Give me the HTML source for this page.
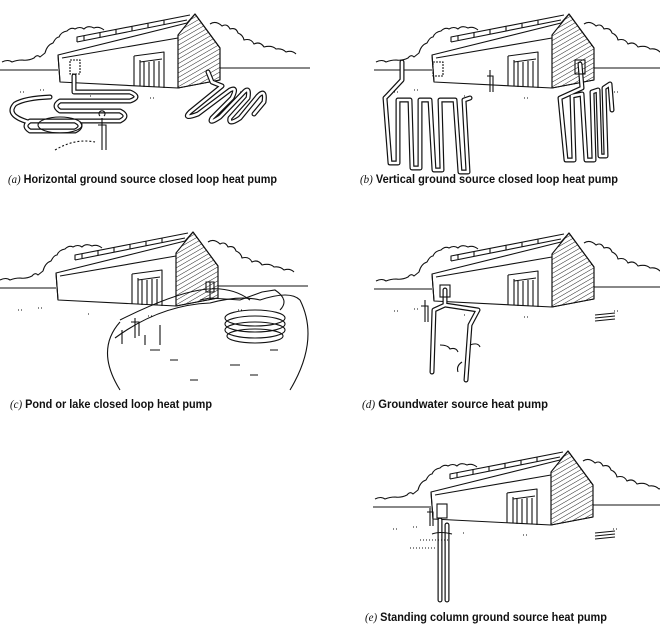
<!DOCTYPE html>
<html><head><meta charset="utf-8"><style>
html,body{margin:0;padding:0;background:#fff;}
svg{display:block}
.cap{font-family:"Liberation Sans",Arial,sans-serif;font-weight:bold;font-size:12px;fill:#111}
.it{font-family:"Liberation Serif",serif;font-style:italic;font-weight:normal}
</style></head><body>
<svg width="660" height="634" viewBox="0 0 660 634" xmlns="http://www.w3.org/2000/svg">
<defs>
<pattern id="h" width="4" height="4" patternUnits="userSpaceOnUse" patternTransform="rotate(60)">
<line x1="0" y1="0" x2="0" y2="4" stroke="#222" stroke-width="1"/></pattern>
<g id="bld" fill="none" stroke="#111" stroke-width="1.1" stroke-linejoin="round">
<path d="M2,62 q6,-3 10,0 q5,-2 10,-2 q6,1 12,-2 q3,-4 6,-1 l5,-4 q2,-8 8,-10 q3,-6 6,-6 q2,-5 8,-6 q4,-4 8,-2 q5,-3 9,0 q4,-4 10,-1 q5,-2 10,2"/>
<path d="M210,24 q6,-4 12,2 q5,-3 8,3 q6,-2 8,4 q5,2 6,7 q7,-2 10,4 q6,-3 10,3 q8,-2 12,2 q6,-1 10,3 q6,-2 10,2"/>
<path d="M0,70 L58,70 M220,68 L310,68"/>
<path d="M58,55 L187,23 L195,14 L220,48 L220,80 L178,88 L60,82 Z" fill="#fff"/>
<path d="M178,35 L178,88 M58,55 L60,82"/>
<path d="M178,35 L195,14 L220,48 L220,80 L178,88 Z" fill="url(#h)"/>
<path d="M77,42 L187,20 M77,42 L77,37 L190,15 M84,40 L84,36 M100,37 L100,32 M116,34 L116,29 M132,31 L132,26 M148,28 L148,23 M164,25 L164,20"/>
<path d="M62,58 L178,38"/>
<path d="M134,56 L164,52 L164,88 M134,56 L134,86 M140,60 L140,86 M144,62 L144,87 M149,62 L149,87 M154,61 L154,87 M159,61 L159,87 M140,62 L162,59"/>
<path d="M20,92 l4,0 M40,90 l6,0 M90,96 l3,0 M150,98 l5,0 M240,92 l4,0" stroke-dasharray="1 2"/>
</g>
</defs>

<use href="#bld"/>
<use href="#bld" transform="translate(374,0)"/>
<use href="#bld" transform="translate(-2,218)"/>
<use href="#bld" transform="translate(374,219)"/>
<use href="#bld" transform="translate(373,437)"/>

<g fill="none" stroke="#111" stroke-width="5" stroke-linecap="round" stroke-linejoin="round">
<path d="M74,76 L74,92 L130,92 Q142,97 130,101 L60,101 Q52,106 60,111 L120,111 Q130,116 120,121 L30,121 Q22,126 30,131 L75,131 Q85,126 75,121"/>
<path d="M28,122 Q5,115 15,104 Q25,98 50,97"/>
<path d="M208,72 L212,82 L222,86 L190,112 Q182,120 198,114 L230,90 Q238,86 232,98 L212,118 Q208,125 220,117 L244,92 Q250,86 248,98 L230,118 Q228,126 240,118 L258,96 Q266,88 264,102 L254,114"/>
<path d="M402,62 L402,80 L388,95 L385,98 L390,163 L398,163 L398,100 L410,100 L412,168 L420,168 L420,100 L430,100 L434,170 L442,170 L440,100 L455,100 L460,172 L468,172 L464,100 L470,98"/>
<path d="M580,64 L582,88 L560,98 L566,160 L574,160 L572,96 L582,94 L586,160 L594,160 L592,92 L598,90 L600,156 L606,156 L604,88 L610,84 L612,110"/>
<path d="M445,290 L445,305 L434,310 L432,372 M445,305 L478,310 L470,325 L466,380"/>
<path d="M440,520 L440,600 M447,525 L447,600"/>
</g>
<g fill="none" stroke="#fff" stroke-width="2.6" stroke-linecap="round" stroke-linejoin="round">
<path d="M74,76 L74,92 L130,92 Q142,97 130,101 L60,101 Q52,106 60,111 L120,111 Q130,116 120,121 L30,121 Q22,126 30,131 L75,131 Q85,126 75,121"/>
<path d="M28,122 Q5,115 15,104 Q25,98 50,97"/>
<path d="M208,72 L212,82 L222,86 L190,112 Q182,120 198,114 L230,90 Q238,86 232,98 L212,118 Q208,125 220,117 L244,92 Q250,86 248,98 L230,118 Q228,126 240,118 L258,96 Q266,88 264,102 L254,114"/>
<path d="M402,62 L402,80 L388,95 L385,98 L390,163 L398,163 L398,100 L410,100 L412,168 L420,168 L420,100 L430,100 L434,170 L442,170 L440,100 L455,100 L460,172 L468,172 L464,100 L470,98"/>
<path d="M580,64 L582,88 L560,98 L566,160 L574,160 L572,96 L582,94 L586,160 L594,160 L592,92 L598,90 L600,156 L606,156 L604,88 L610,84 L612,110"/>
<path d="M445,290 L445,305 L434,310 L432,372 M445,305 L478,310 L470,325 L466,380"/>
<path d="M440,520 L440,600 M447,525 L447,600"/>
</g>

<g fill="none" stroke="#111" stroke-width="1.1">
<ellipse cx="60" cy="125" rx="22" ry="8"/>
<path d="M55,150 q20,-12 40,-8" stroke-dasharray="2 2"/>
<rect x="70" y="60" width="10" height="14" stroke-dasharray="2 1"/>
<path d="M102,118 l0,32 M98,125 l8,0 l0,25 M100,116 a3,3 0 1,1 4,0"/>
<path d="M120,322 Q95,350 120,390 M300,300 Q320,340 290,390 M115,338 Q160,305 210,303 Q240,295 260,300 Q290,290 300,300" />
<path d="M120,320 Q170,295 200,290 Q230,285 250,300"/>
<ellipse cx="255" cy="318" rx="30" ry="8"/>
<ellipse cx="255" cy="324" rx="30" ry="8"/>
<ellipse cx="255" cy="330" rx="30" ry="8"/>
<ellipse cx="255" cy="336" rx="28" ry="7"/>
<path d="M200,300 L210,298 L240,300 L262,292 L275,290 Q290,300 280,310"/>
<path d="M210,282 l0,18 M206,282 h8 v10 h-8 z"/>
<path d="M135,318 l0,20 M131,322 h8 v14 M122,330 l0,14 M145,335 l0,10 M160,325 l0,20"/>
<path d="M150,350 l10,0 M170,360 l8,0 M190,380 l8,0 M230,365 l10,0 M250,375 l8,0 M270,350 l8,0" />
<path d="M490,70 l0,22 M487,76 h6 v16"/>
<rect x="433" y="62" width="10" height="14" stroke-dasharray="2 1"/>
<rect x="575" y="60" width="10" height="14"/>
<rect x="440" y="285" width="10" height="12"/>
<path d="M425,300 l0,22 M421,306 h7 v16 M440,345 q8,0 10,4 q6,-2 8,3 M462,362 q-6,4 -4,10 M470,345 q8,-3 10,2"/>
<path d="M595,315 l20,-2 M595,318 l20,-2 M595,321 l20,-2" />
<rect x="437" y="504" width="10" height="14"/>
<path d="M430,508 l0,18 M427,512 h6 v14"/>
<path d="M432,534 q8,-3 20,0"/>
<path d="M595,533 l20,-2 M595,536 l20,-2 M595,539 l20,-2"/>
<path d="M420,540 l30,0 M410,548 l25,0" stroke-dasharray="1 2"/>
</g>

<text class="cap" x="8" y="183" textLength="269" lengthAdjust="spacingAndGlyphs"><tspan class="it">(a)</tspan> Horizontal ground source closed loop heat pump</text>
<text class="cap" x="360" y="183" textLength="258" lengthAdjust="spacingAndGlyphs"><tspan class="it">(b)</tspan> Vertical ground source closed loop heat pump</text>
<text class="cap" x="10" y="408" textLength="202" lengthAdjust="spacingAndGlyphs"><tspan class="it">(c)</tspan> Pond or lake closed loop heat pump</text>
<text class="cap" x="362" y="408" textLength="186" lengthAdjust="spacingAndGlyphs"><tspan class="it">(d)</tspan> Groundwater source heat pump</text>
<text class="cap" x="365" y="621" textLength="242" lengthAdjust="spacingAndGlyphs"><tspan class="it">(e)</tspan> Standing column ground source heat pump</text>
</svg>
</body></html>
